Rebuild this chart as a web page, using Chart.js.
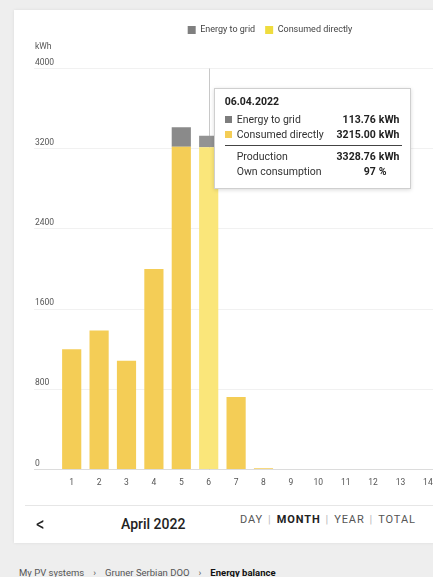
<!DOCTYPE html>
<html>
<head>
<meta charset="utf-8">
<script src="https://cdn.jsdelivr.net/npm/chart.js@4.4.1/dist/chart.umd.min.js"></script>
<style>
  html, body { margin:0; padding:0; width:433px; height:577px; overflow:hidden; background:#eeeeee; font-family: Roboto, "Noto Sans", sans-serif; }
  #card { position:absolute; left:14px; top:10px; width:460px; height:533px; background:#ffffff; box-shadow:0 0 3px rgba(0,0,0,0.08); }
  #chartWrap { position:absolute; left:14px; top:10px; width:866px; height:495px; }
  #unit { position:absolute; left:35px; top:41px; font-size:8.5px; color:#555; }
  #sep { position:absolute; left:25px; top:505px; width:420px; height:1px; background:#e6e6e6; }
  #prev { position:absolute; left:36px; top:511px; font-size:21px; color:#222; font-weight:400; line-height:26px; transform:scaleX(0.8); transform-origin:left; }
  #month { position:absolute; left:121px; top:515px; font-size:14px; color:#222; font-weight:500; line-height:18px; }
  #range { position:absolute; left:240px; top:512px; font-size:11px; color:#555; letter-spacing:0.9px; line-height:16px; white-space:nowrap; }
  #range b { color:#222; font-weight:700; }
  #range .bar { color:#bbb; margin:0 5px; }
  #crumb { position:absolute; left:19px; top:567px; font-size:9.5px; color:#555; white-space:nowrap; }
  #crumb b { color:#111; }
  #crumb .chev { margin:0 9px; }
  #tip { position:absolute; background:#fff; border:1px solid #cfcfcf; box-shadow:0 1px 4px rgba(0,0,0,0.15); padding:6px 8px 9px 10px; font-size:10.5px; color:#333; width:177px; }
  #tip .t { font-weight:700; color:#222; margin-bottom:4px; font-size:10.5px; }
  #tip table { border-collapse:collapse; width:100%; }
  #tip td { padding:0; line-height:15px; white-space:nowrap; }
  #tip .sq { display:inline-block; width:7px; height:7px; margin-right:5px; vertical-align:0px; }
  #tip .num { text-align:right; font-weight:700; color:#222; }
  #tip .unit { text-align:left; font-weight:700; color:#222; padding-left:3px; }
  #tip tr.line td { border-bottom:1px solid #444; height:3px; line-height:3px; }
  #tip tr.gap td { height:3px; line-height:3px; }
</style>
</head>
<body>
<div id="card"></div>
<div id="chartWrap"><canvas id="c"></canvas></div>
<div id="unit">kWh</div>
<div id="sep"></div>
<div id="prev">&lt;</div>
<div id="month">April 2022</div>
<div id="range">DAY<span class="bar">|</span><b>MONTH</b><span class="bar">|</span>YEAR<span class="bar">|</span>TOTAL</div>
<div id="crumb">My PV systems<span class="chev">›</span>Gruner Serbian DOO<span class="chev">›</span><b>Energy balance</b></div>
<div id="tip"></div>
<script>
// ---- data ----
const days = ['1','2','3','4','5','6','7','8','9','10','11','12','13','14','15','16','17','18','19','20','21','22','23','24','25','26','27','28','29','30'];
const consumedDirectly = [1200, 1385, 1083, 2000, 3220, 3215.00, 722, 12, null, null, null, null, null, null, null, null, null, null, null, null, null, null, null, null, null, null, null, null, null, null];
const energyToGrid = [0, 0, 0, 0, 195, 113.76, 0, 0, null, null, null, null, null, null, null, null, null, null, null, null, null, null, null, null, null, null, null, null, null, null];
const yTicks = [0, 800, 1600, 2400, 3200, 4000];
const monthNum = '04';
const yearNum = '2022';
const activeDay = 5; // index of 6 April

const YELLOW = '#f4cd56', YELLOW_HOVER = '#fae67a', GRAY = '#8a8a8a';

function fmt(v){ return v.toFixed(2); }

function externalTip(ctx){
  const tip = document.getElementById('tip');
  const t = ctx.tooltip;
  if (!t || t.opacity === 0 || !t.dataPoints || !t.dataPoints.length) { tip.style.display='none'; return; }
  const i = t.dataPoints[0].dataIndex;
  const g = energyToGrid[i] || 0, c = consumedDirectly[i] || 0, p = g + c;
  const own = p ? Math.round(c / p * 100) : 0;
  const dd = String(days[i]).padStart(2,'0');
  tip.innerHTML =
    '<div class="t">' + dd + '.' + monthNum + '.' + yearNum + '</div>' +
    '<table>' +
    '<tr><td><span class="sq" style="background:#7d7d7d"></span>Energy to grid</td><td class="num">' + fmt(g) + '</td><td class="unit">kWh</td></tr>' +
    '<tr><td><span class="sq" style="background:' + YELLOW + '"></span>Consumed directly</td><td class="num">' + fmt(c) + '</td><td class="unit">kWh</td></tr>' +
    '<tr class="line"><td></td><td></td><td></td></tr>' +
    '<tr class="gap"><td></td><td></td><td></td></tr>' +
    '<tr><td style="padding-left:12px">Production</td><td class="num">' + fmt(p) + '</td><td class="unit">kWh</td></tr>' +
    '<tr><td style="padding-left:12px">Own consumption</td><td class="num">' + own + '</td><td class="unit">%</td></tr>' +
    '</table>';
  const wrap = document.getElementById('chartWrap');
  tip.style.display = 'block';
  tip.style.left = (wrap.offsetLeft + t.caretX + 5) + 'px';
  tip.style.top = '88px';
}

const crosshair = {
  id: 'crosshair',
  beforeDatasetsDraw(chart){
    const act = chart.getActiveElements();
    if (!act.length) return;
    const x = act[0].element.x;
    const ctx = chart.ctx;
    ctx.save();
    ctx.strokeStyle = '#c8c8c8';
    ctx.lineWidth = 1;
    ctx.beginPath();
    ctx.moveTo(Math.round(x)+0.5, chart.chartArea.top);
    ctx.lineTo(Math.round(x)+0.5, chart.chartArea.bottom);
    ctx.stroke();
    ctx.restore();
  }
};

const legendPlace = {
  id: 'legendPlace',
  beforeInit(chart){
    const lg = chart.legend;
    const orig = lg.fit;
    lg.fit = function(){ orig.call(this); this.height += 24; };
  },
  beforeDraw(chart){
    const lg = chart.legend;
    const cx = 256; // legend centre in canvas px
    lg.left = cx - 200; lg.right = cx + 200;
  }
};

const chart = new Chart(document.getElementById('c'), {
  type: 'bar',
  data: {
    labels: days,
    datasets: [
      { label: 'Consumed directly', data: consumedDirectly, backgroundColor: YELLOW, hoverBackgroundColor: YELLOW_HOVER, borderWidth: 0, stack: 's' },
      { label: 'Energy to grid', data: energyToGrid, backgroundColor: GRAY, hoverBackgroundColor: '#939393', borderWidth: 0, stack: 's' }
    ]
  },
  options: {
    responsive: true,
    maintainAspectRatio: false,
    animation: false,
    events: [],
    layout: { padding: { left: 21, right: 0, top: 5.5, bottom: 9.4 } },
    datasets: { bar: { barPercentage: 0.7, categoryPercentage: 1.0 } },
    plugins: {
      legend: {
        position: 'top',
        reverse: true,
        labels: {
          boxWidth: 8, boxHeight: 8, padding: 10,
          color: '#444',
          font: { family: 'Roboto', size: 9 },
          generateLabels(ch){
            const items = Chart.defaults.plugins.legend.labels.generateLabels(ch);
            items.forEach(it => { it.fillStyle = it.text === 'Consumed directly' ? '#efdc3e' : '#7f7f7f'; it.lineWidth = 0; it.strokeStyle = 'transparent'; });
            return items;
          }
        }
      },
      tooltip: { enabled: false, mode: 'index', intersect: false, external: externalTip }
    },
    scales: {
      x: {
        stacked: true,
        grid: { display: false, drawTicks: false },
        border: { display: false },
        ticks: { color: '#555', font: { family: 'Roboto', size: 8.5 }, padding: 8, maxRotation: 0, autoSkip: false }
      },
      y: {
        stacked: true,
        min: 0, max: 4000,
        afterBuildTicks(scale){ scale.ticks = yTicks.map(v => ({ value: v })); },
        afterFit(scale){ scale.width = 23; },
        border: { display: false },
        grid: {
          color: (c) => c.tick && c.tick.value === 0 ? '#dcdcdc' : '#f1f1f1',
          tickLength: 24, drawTicks: true
        },
        ticks: { crossAlign: 'far', labelOffset: -6, padding: 0, color: '#555', font: { family: 'Roboto', size: 8.5 }, callback: (v) => String(v) }
      }
    }
  },
  plugins: [crosshair, legendPlace]
});

const act = [{ datasetIndex: 0, index: activeDay }, { datasetIndex: 1, index: activeDay }];
chart.setActiveElements(act);
const el = chart.getDatasetMeta(0).data[activeDay];
chart.tooltip.setActiveElements(act, { x: el.x, y: el.y });
chart.update();
</script>
</body>
</html>
